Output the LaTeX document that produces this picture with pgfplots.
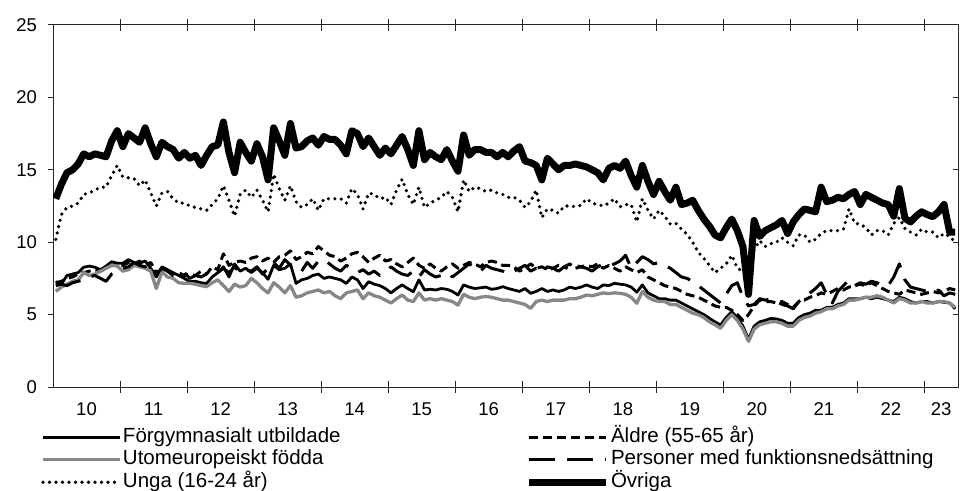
\documentclass[border=0pt]{standalone}
\usepackage{fontspec}
\setmainfont{Liberation Sans}
\usepackage{pgfplots}
\usepackage{pgfplotstable}
\pgfplotsset{compat=1.18}
\definecolor{ugray}{RGB}{135,135,135}
\pgfplotstableread{
F A U P Y O
7.27 7.2 6.6 7.0 10.2 13.0
7.1 7.3 6.9 7.1 11.9 14.0
7.7 7.5 7.1 7.0 12.4 14.8
7.8 7.6 7.3 7.2 12.5 15.0
7.9 7.8 7.4 7.3 12.7 15.4
8.27 7.9 7.9 7.4 13.3 16.1
8.35 8.0 7.7 7.6 13.4 15.9
8.27 8.1 7.8 7.7 13.6 16.1
8.1 8.0 8.0 7.5 13.8 16.0
8.35 8.2 8.2 7.3 13.8 15.9
8.65 8.4 8.4 7.8 14.6 17.0
8.55 8.5 8.35 8.0 15.3 17.7
8.55 8.4 8.0 8.2 14.5 16.6
8.8 8.6 8.1 8.3 14.45 17.5
8.6 8.5 8.4 8.6 14.4 17.2
8.55 8.7 8.3 8.4 13.9 16.9
8.7 8.4 8.2 8.3 14.3 17.9
8.2 8.6 8.0 8.5 13.4 16.8
7.6 7.9 6.8 7.8 12.5 15.9
8.3 8.1 7.96 8.2 13.4 16.9
8.1 8.0 7.6 8.0 13.5 16.6
7.9 7.8 7.5 7.7 13.0 16.4
7.7 7.9 7.2 7.8 12.7 15.8
7.5 7.7 7.16 7.9 12.7 16.2
7.27 7.8 7.16 7.5 12.5 15.8
7.3 7.7 7.1 7.7 12.4 16.0
7.2 8.0 7.0 7.6 12.3 15.3
7.15 7.8 6.93 7.8 12.2 16.0
7.6 8.3 7.2 7.7 12.6 16.6
7.9 8.1 7.4 7.9 13.0 16.7
8.3 9.2 7.0 8.2 13.9 18.3
7.6 8.4 6.6 7.9 12.9 16.2
8.5 8.6 7.1 8.3 11.8 14.8
8.0 8.7 6.9 7.9 13.3 16.9
8.2 8.6 7.0 8.1 13.6 16.2
7.9 8.9 7.5 8.0 13.1 15.6
8.2 9.0 7.2 8.3 13.6 16.8
7.9 8.7 6.8 7.8 12.9 15.9
7.44 8.9 6.5 8.2 12.1 14.3
8.4 8.6 7.2 8.6 14.7 17.9
8.1 9.0 6.9 8.2 13.7 17.0
8.2 9.1 6.5 8.8 12.9 16.0
8.5 9.4 7.0 8.4 13.9 18.2
7.16 8.8 6.2 8.3 12.8 16.5
7.4 9.0 6.3 8.0 12.4 16.6
7.5 9.3 6.5 8.6 12.6 17.0
7.7 9.2 6.6 8.2 13.0 17.2
7.8 9.7 6.7 8.7 12.2 16.7
7.5 9.4 6.5 8.8 13.0 17.3
7.6 9.1 6.6 8.5 13.0 17.1
7.5 9.0 6.3 8.2 13.0 17.1
7.4 8.7 6.1 8.0 13.0 16.7
7.15 8.9 6.5 8.4 12.7 16.1
7.6 9.2 6.6 8.2 13.7 17.7
7.4 9.3 6.7 7.9 13.3 17.5
6.8 9.0 6.1 8.1 12.3 16.6
7.27 8.6 6.5 7.8 13.4 17.2
7.1 8.9 6.3 8.0 13.3 16.6
7.0 9.1 6.2 7.7 13.0 16.0
6.8 8.7 6.0 7.9 13.1 16.5
6.5 8.8 5.8 8.3 12.6 16.1
6.8 8.5 6.1 8.0 13.6 16.7
7.05 8.3 6.35 7.8 14.35 17.3
6.8 8.6 6.0 7.7 13.3 16.4
6.58 8.9 5.9 8.0 12.6 15.3
7.4 8.4 6.5 7.6 13.8 17.7
6.7 8.2 6.0 8.1 12.4 15.7
6.75 8.5 6.1 7.8 12.7 16.2
6.7 8.2 6.0 7.6 12.9 15.9
6.8 8.0 6.1 7.7 13.1 15.7
6.75 8.3 6.0 7.9 13.5 16.4
6.6 8.5 5.9 7.6 13.1 15.6
6.35 8.2 5.66 7.9 12.1 14.9
7.05 8.4 6.4 8.2 14.3 17.4
6.9 8.6 6.2 8.5 13.5 16.0
6.8 8.5 6.1 8.3 13.8 16.4
6.85 8.3 6.2 8.0 13.7 16.4
6.9 8.6 6.25 8.4 13.5 16.2
6.75 8.7 6.2 8.2 13.6 16.2
6.8 8.6 6.1 8.1 13.4 15.9
6.93 8.4 6.0 8.0 13.3 16.2
6.8 8.4 6.0 7.8 13.1 15.9
6.7 8.3 5.9 8.0 13.1 16.3
6.6 8.0 5.8 8.2 12.9 16.6
6.8 8.2 5.7 8.4 12.4 15.6
6.47 8.5 5.43 8.0 12.8 15.5
6.6 8.2 5.9 8.2 13.6 15.3
6.8 8.3 6.0 7.9 11.7 14.3
6.6 8.1 5.9 8.3 12.3 15.8
6.7 8.2 6.0 8.2 12.2 15.4
6.6 8.4 6.0 8.0 12.0 15.0
6.7 8.3 6.0 8.3 12.5 15.3
6.9 8.5 6.1 8.1 12.5 15.3
6.8 8.2 6.1 8.4 12.45 15.4
6.9 8.3 6.2 8.3 12.55 15.3
7.05 8.4 6.35 8.2 13.0 15.2
6.9 8.3 6.3 8.0 12.7 15.0
6.8 8.5 6.4 8.3 12.6 14.8
7.05 8.2 6.5 8.5 12.5 14.3
7.0 8.4 6.45 8.4 12.7 15.1
7.16 8.2 6.5 8.5 13.0 15.3
7.1 8.0 6.47 8.7 12.45 15.1
7.05 8.3 6.4 9.1 12.6 15.6
6.9 8.1 6.2 8.2 12.6 14.6
6.55 7.9 5.78 8.6 11.4 13.8
7.05 8.1 6.6 9.0 13.0 15.3
6.5 7.6 6.2 8.8 12.2 14.2
6.3 7.4 6.0 8.5 11.6 13.3
6.1 7.2 5.9 8.6 12.2 14.2
6.1 7.0 5.9 8.4 11.8 13.5
6.0 6.9 5.7 8.2 11.25 12.9
6.0 6.8 5.7 7.9 11.3 13.8
5.8 6.6 5.5 7.6 10.9 12.6
5.6 6.4 5.3 7.5 10.55 12.7
5.4 6.3 5.1 7.3 10.0 12.9
5.2 6.2 5.0 7.0 9.3 12.2
5.0 6.0 4.8 6.7 8.9 11.6
4.74 5.8 4.5 6.4 8.4 11.1
4.5 5.6 4.3 6.1 7.9 10.5
4.28 5.5 4.05 5.8 8.2 10.3
4.8 5.5 4.6 6.4 8.5 11.0
5.2 5.3 5.0 7.0 9.1 11.6
4.8 5.0 4.6 7.2 8.2 10.8
4.2 4.6 4.0 6.2 8.0 9.7
3.3 5.0 3.15 5.6 7.6 6.4
4.2 5.6 4.0 5.7 9.5 11.5
4.5 6.0 4.3 6.1 10.1 10.4
4.6 5.9 4.4 6.0 9.7 10.8
4.74 5.9 4.5 6.1 9.9 11.0
4.7 5.8 4.5 5.9 10.0 11.2
4.6 5.9 4.4 5.7 10.3 11.5
4.4 5.7 4.2 5.6 10.0 10.6
4.4 5.5 4.2 5.4 9.75 11.4
4.8 5.9 4.6 5.9 10.5 11.9
5.0 6.0 4.8 6.2 10.5 12.3
5.1 6.2 4.9 6.5 10.0 12.2
5.3 6.3 5.1 6.8 10.2 12.1
5.3 6.5 5.2 7.2 10.6 13.8
5.5 6.4 5.4 6.4 10.8 12.8
5.5 6.6 5.4 5.8 10.8 12.9
5.7 6.8 5.6 6.6 10.8 13.1
5.8 6.7 5.7 7.0 10.9 13.0
6.1 6.9 6.0 7.4 12.3 13.3
6.1 7.0 6.0 7.0 11.3 13.5
6.1 7.1 6.1 7.2 11.25 12.6
6.2 7.0 6.2 7.1 11.0 13.3
6.1 7.2 6.2 7.3 10.5 13.1
6.2 7.0 6.3 7.2 10.8 12.9
6.1 6.8 6.2 7.0 10.8 12.7
6.0 6.6 6.0 7.0 10.5 12.6
5.9 6.5 5.8 7.6 11.3 11.8
6.2 6.4 6.1 8.5 11.7 13.7
6.1 6.7 6.0 7.4 10.95 11.65
5.9 6.6 5.8 6.9 10.7 11.4
5.8 6.5 5.8 6.8 10.5 11.8
5.9 6.4 5.9 6.7 10.9 12.1
5.9 6.5 5.8 6.6 10.7 11.9
5.8 6.6 5.8 6.5 10.7 11.76
5.9 6.5 5.9 6.7 10.3 12.1
5.85 6.6 5.9 6.3 10.6 12.6
5.8 6.8 5.8 6.5 10.4 10.7
5.4 6.7 5.5 6.4 10.0 10.7
}\datatable
\begin{document}
\begin{tikzpicture}
\begin{axis}[
  at={(0,0)}, anchor=south west,
  scale only axis, width=905bp, height=362bp,
  xmin=-0.5, xmax=161.5, ymin=0, ymax=25,
  axis line style={black!85, line width=1bp},
  ytick={0,5,10,15,20,25},
  xtick={5.5,17.5,29.5,41.5,53.5,65.5,77.5,89.5,101.5,113.5,125.5,137.5,149.5,158.5},
  xticklabels={10,11,12,13,14,15,16,17,18,19,20,21,22,23},
  minor xtick={11.5,23.5,35.5,47.5,59.5,71.5,83.5,95.5,107.5,119.5,131.5,143.5,155.5},
  tick align=center,
  major tick length=5bp, minor tick length=12bp,
  major x tick style={draw=none},
  minor x tick style={black!85, line width=1bp},
  ytick style={black!85, line width=1bp, xshift=-2.5bp},
  /pgf/number format/assume math mode=true,
  tick label style={font=\fontsize{18.5bp}{21bp}\selectfont},
  yticklabel style={xshift=-10bp},
  xticklabel style={yshift=-10bp},
  legend columns=2,
  legend cell align=left,
  legend image code/.code={\draw[#1] (0bp,0bp) -- (77bp,0bp);},
  legend style={draw=none, fill=none, at={(0,0)}, anchor=north west,
    xshift=-12bp, yshift=-40bp,
    font=\fontsize{20.5bp}{21bp}\selectfont,
    inner sep=0pt, row sep=2bp,
    nodes={inner sep=1.2bp, text height=14bp, text depth=4bp},
    /tikz/every even column/.append style={column sep=184bp}},
  line join=round,
]
\addplot[black, line width=2.8bp] table[x expr=\coordindex, y=F] {\datatable};
\addlegendentry{Förgymnasialt utbildade}
\addplot[black, line width=3bp, dash pattern=on 9bp off 5bp] table[x expr=\coordindex, y=A] {\datatable};
\addlegendentry{Äldre (55-65 år)}
\addplot[ugray, line width=3.3bp] table[x expr=\coordindex, y=U] {\datatable};
\addlegendentry{Utomeuropeiskt födda}
\addplot[black, line width=3bp, dash pattern=on 26bp off 12bp] table[x expr=\coordindex, y=P] {\datatable};
\addlegendentry{Personer med funktionsnedsättning}
\addplot[black, line width=3.6bp, line cap=round, dash pattern=on 0bp off 6.5bp] table[x expr=\coordindex, y=Y] {\datatable};
\addlegendentry{Unga (16-24 år)}
\addplot[black, line width=7bp] table[x expr=\coordindex, y=O] {\datatable};
\addlegendentry{Övriga}
\end{axis}
\pgfresetboundingbox
\useasboundingbox (-53bp,-104bp) rectangle (913bp,387bp);
\end{tikzpicture}
\end{document}
